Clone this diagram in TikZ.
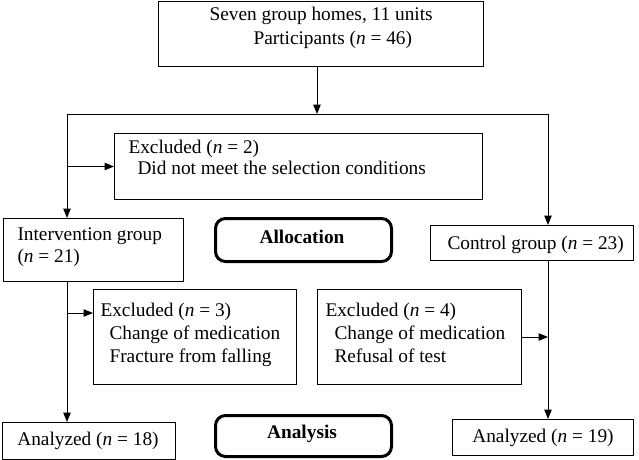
\documentclass[tikz,border=0pt]{standalone}
\usepackage{fontspec}
\setmainfont{Liberation Serif}
\usetikzlibrary{arrows.meta}
\tikzset{every picture/.style={line width=0.75pt}}

\begin{document}
\begin{tikzpicture}[x=0.75pt,y=0.75pt,yscale=-1,xscale=1,
  box/.style={draw, rectangle, inner sep=0pt, anchor=north west},
  phase/.style={box, rounded corners=7.5pt, line width=2.25pt},
  txt/.style={inner sep=0pt, font=\fontsize{14.5}{17}\selectfont},
  arr/.style={-{Triangle[length=7pt,width=5.5pt]}}]
\useasboundingbox (0,0) rectangle (639,460);

%Shape: Rectangle
\node [box, minimum width=243.75pt, minimum height=48.75pt] (top) at (158,1) {};
%Shape: Rectangle
\node [box, minimum width=276pt, minimum height=49.5pt] (excl2) at (114,133) {};
%Shape: Rectangle
\node [box, minimum width=135pt, minimum height=47.25pt] (interv) at (3,218) {};
%Shape: Rounded Rect
\node [phase, minimum width=132pt, minimum height=32.25pt] (alloc) at (214,217) {};
%Shape: Rectangle
\node [box, minimum width=152.25pt, minimum height=26.25pt] (ctrl) at (430,225) {};
%Shape: Rectangle
\node [box, minimum width=152.25pt, minimum height=71.25pt] (excl3) at (93,289) {};
%Shape: Rectangle
\node [box, minimum width=153pt, minimum height=71.25pt] (excl4) at (317,289) {};
%Shape: Rectangle
\node [box, minimum width=129.75pt, minimum height=27.75pt] (ana1) at (2,422) {};
%Shape: Rounded Rect
\node [phase, minimum width=132pt, minimum height=30.75pt] (analysis) at (214,414) {};
%Shape: Rectangle
\node [box, minimum width=135.75pt, minimum height=27pt] (ana2) at (452,419) {};

%Straight Lines
\coordinate (split) at (317,114);
\coordinate (lbranch) at (67,114);
\coordinate (rbranch) at (548,114);
\coordinate (ex3in) at ([yshift=18pt]excl3.north west);
\draw [arr] (top.south -| split) -- (split);
\draw (lbranch) -- (rbranch);
\draw [arr] (lbranch) -- (lbranch |- interv.north);
\draw [arr] (rbranch) -- (rbranch |- ctrl.north);
\draw [arr] (lbranch |- excl2.west) -- (excl2.west);
\draw [arr] (lbranch |- interv.south) -- (lbranch |- ana1.north);
\draw [arr] (lbranch |- ex3in) -- (ex3in);
\draw [arr] (excl4.east) -- (excl4.east -| rbranch);
\draw [arr] (rbranch |- ctrl.south) -- (rbranch |- ana2.north);

% Text Node
\draw (209,21) node [txt, anchor=base west] (topA) {Seven group homes, 11 units};
% Text Node
\draw (253,45) node [txt, anchor=base west] (topB) {Participants (\textit{n} = 46)};
% Text Node
\draw (128,153) node [txt, anchor=base west] (excl2A) {Excluded (\textit{n} = 2)};
% Text Node
\draw (137,174) node [txt, anchor=base west] (excl2B) {Did not meet the selection conditions};
% Text Node
\draw (17,240) node [txt, anchor=base west] (intervA) {Intervention group};
% Text Node
\draw (17,262) node [txt, anchor=base west] (intervB) {(\textit{n} = 21)};
% Text Node
\draw (302,243) node [txt, anchor=base, font=\fontsize{14.5}{17}\selectfont\bfseries] (allocT) {Allocation};
% Text Node
\draw (447,249) node [txt, anchor=base west] (ctrlT) {Control group (\textit{n} = 23)};
% Text Node
\draw (100,316) node [txt, anchor=base west] (excl3A) {Excluded (\textit{n} = 3)};
% Text Node
\draw (109,339) node [txt, anchor=base west] (excl3B) {Change of medication};
% Text Node
\draw (109,362) node [txt, anchor=base west] (excl3C) {Fracture from falling};
% Text Node
\draw (325,316) node [txt, anchor=base west] (excl4A) {Excluded (\textit{n} = 4)};
% Text Node
\draw (334,339) node [txt, anchor=base west] (excl4B) {Change of medication};
% Text Node
\draw (334,362) node [txt, anchor=base west] (excl4C) {Refusal of test};
% Text Node
\draw (88,445) node [txt, anchor=base] (ana1T) {Analyzed (\textit{n} = 18)};
% Text Node
\draw (302,438) node [txt, anchor=base, font=\fontsize{14.5}{17}\selectfont\bfseries] (analysisT) {Analysis};
% Text Node
\draw (543,442) node [txt, anchor=base] (ana2T) {Analyzed (\textit{n} = 19)};

\end{tikzpicture}
\end{document}
